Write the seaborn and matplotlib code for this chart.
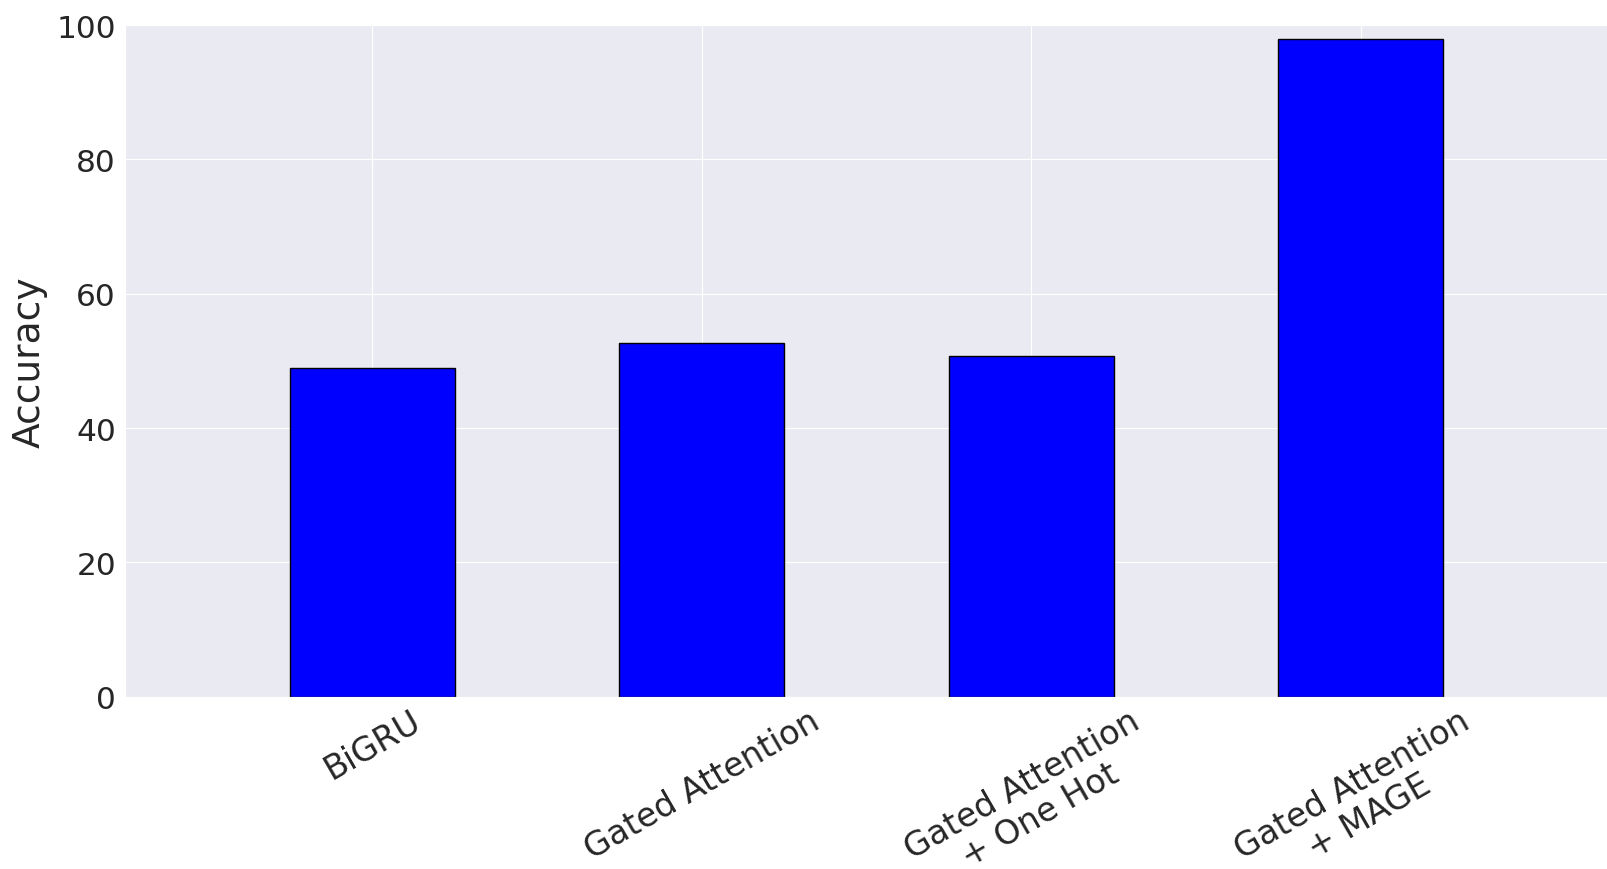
import pandas as pd
import matplotlib
matplotlib.use("Agg")
import matplotlib.pyplot as plt
import seaborn as sns

# --- data ---
models = ['BiGRU', 'Gated Attention', 'Gated Attention\n+ One Hot', 'Gated Attention\n+ MAGE']
accuracy = [48.9, 52.7, 50.7, 98.0]
y_ticks = [0, 20, 40, 60, 80, 100]

df = pd.DataFrame({'Model': models, 'Accuracy': accuracy})

sns.set_style("darkgrid")
plt.rcParams['font.family'] = ['DejaVu Sans']
plt.rcParams['xtick.major.size'] = 3
plt.rcParams['ytick.major.size'] = 3

fig = plt.figure(figsize=(16.08, 8.70), dpi=100)
ax = fig.add_axes([0.0778, 0.198, 0.9222, 0.772])

sns.barplot(data=df, x='Model', y='Accuracy', color='blue', saturation=1,
            edgecolor='black', linewidth=1, width=0.5, ax=ax)

ax.set_xlim(-0.75, len(models) - 0.25)
ax.set_ylim(0, 100)
ax.set_yticks(y_ticks)
ax.xaxis.grid(True)
ax.set_axisbelow(True)

ax.set_xlabel('')
ax.set_ylabel('Accuracy', fontsize=27, labelpad=6)
ax.tick_params(axis='y', labelsize=22.5)
ax.tick_params(axis='x', labelsize=24, pad=2)
plt.setp(ax.get_xticklabels(), rotation=30, ha='center', linespacing=1.1)

fig.savefig('out.png', dpi=100)
